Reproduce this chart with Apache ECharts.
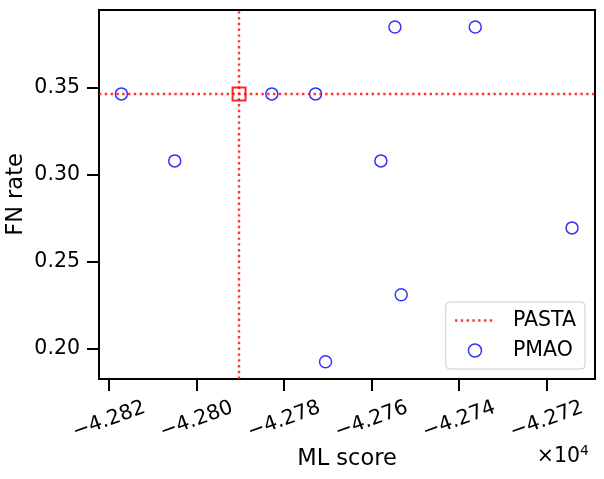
<!DOCTYPE html>
<html>
<head>
<meta charset="utf-8">
<script src="https://cdn.jsdelivr.net/npm/echarts@6/dist/echarts.min.js"></script>
<style>
  html, body { margin: 0; padding: 0; background: #fff; }
  #chart { width: 604px; height: 479px; }
</style>
</head>
<body>
<div id="chart"></div>
<script>
// ML score in units of 1e4 (axis shows x10^4 offset)
const pmaoScore = [-4.281717, -4.280498, -4.278280, -4.277281, -4.275468, -4.273632, -4.275788, -4.271421, -4.275324, -4.277053];
const pmaoFnRate = [0.3462, 0.3077, 0.3462, 0.3462, 0.3846, 0.3846, 0.3077, 0.2692, 0.2308, 0.1923];

const pastaScore = -4.279028;
const pastaFnRate = 0.3462;

const xTicks = [-4.282, -4.280, -4.278, -4.276, -4.274, -4.272];
const xTickLabels = ['\u22124.282', '\u22124.280', '\u22124.278', '\u22124.276', '\u22124.274', '\u22124.272'];
const yTicks = [0.20, 0.25, 0.30, 0.35];
const yTickLabels = ['0.20', '0.25', '0.30', '0.35'];

const FONT = 'DejaVu Sans';
const RED = 'rgba(255,0,0,0.8)';
const BLUE = 'rgba(0,0,255,0.8)';
const DOTS = [2.4, 3.4];

const chart = echarts.init(document.getElementById('chart'), null, { renderer: 'canvas' });

const option = {
  animation: false,
  backgroundColor: '#fff',
  textStyle: { fontFamily: FONT, color: '#000' },
  title: {
    text: '×10{sup|4}',
    right: 10,
    top: 439,
    textStyle: {
      fontFamily: FONT,
      fontSize: 20.5,
      fontWeight: 'normal',
      color: '#000',
      rich: {
        sup: { fontFamily: FONT, fontSize: 14, color: '#000', padding: [0, 0, 12, 0] }
      }
    }
  },
  grid: {
    left: 99,
    right: 9,
    top: 10,
    bottom: 100,
    outerBoundsMode: 'none',
    containLabel: false,
    show: true,
    borderColor: '#000',
    borderWidth: 2,
    backgroundColor: 'transparent'
  },
  legend: {
    orient: 'vertical',
    right: 19,
    top: 302,
    align: 'left',
    backgroundColor: 'rgba(255,255,255,0.8)',
    borderColor: '#cccccc',
    borderWidth: 1,
    borderRadius: 4,
    padding: [7, 9, 7, 8],
    itemWidth: 40,
    itemHeight: 13,
    itemGap: 7,
    textStyle: { fontFamily: FONT, fontSize: 20.5, color: '#000', lineHeight: 23, padding: [0, 0, 0, 13] },
    data: [
      {
        name: 'PASTA',
        itemStyle: { opacity: 0 },
        lineStyle: { color: RED, width: 2.4, type: DOTS }
      },
      {
        name: 'PMAO',
        icon: 'circle',
        itemStyle: { color: 'transparent', borderColor: BLUE, borderWidth: 1.5 }
      }
    ]
  },
  xAxis: {
    type: 'value',
    min: -4.2822286,
    max: -4.270896,
    name: 'ML score',
    nameLocation: 'middle',
    nameGap: 69,
    nameMoveOverlap: false,
    nameTextStyle: { fontFamily: FONT, fontSize: 22.5, color: '#000' },
    axisLine: { show: true, onZero: false, lineStyle: { color: '#000', width: 2 } },
    axisTick: { show: true, length: 12, lineStyle: { color: '#000', width: 2 }, customValues: xTicks },
    axisLabel: {
      customValues: xTicks,
      rotate: 20,
      align: 'center',
      verticalAlign: 'middle',
      margin: 41,
      fontFamily: FONT,
      fontSize: 20.5,
      color: '#000',
      formatter: function (v) {
        const i = xTicks.findIndex(t => Math.abs(t - v) < 1e-7);
        return i >= 0 ? xTickLabels[i] : '';
      }
    },
    splitLine: { show: false }
  },
  yAxis: {
    type: 'value',
    min: 0.18236,
    max: 0.3944,
    name: 'FN rate',
    nameLocation: 'middle',
    nameGap: 71,
    nameMoveOverlap: false,
    nameTextStyle: { fontFamily: FONT, fontSize: 22.5, color: '#000' },
    axisLine: { show: true, onZero: false, lineStyle: { color: '#000', width: 2 } },
    axisTick: { show: true, length: 12, lineStyle: { color: '#000', width: 2 }, customValues: yTicks },
    axisLabel: {
      customValues: yTicks,
      margin: 19,
      fontFamily: FONT,
      fontSize: 20.5,
      color: '#000',
      formatter: function (v) {
        const i = yTicks.findIndex(t => Math.abs(t - v) < 1e-7);
        return i >= 0 ? yTickLabels[i] : '';
      }
    },
    splitLine: { show: false }
  },
  series: [
    {
      name: 'PASTA',
      type: 'line',
      data: [[pastaScore, pastaFnRate]],
      symbol: 'rect',
      symbolSize: 13,
      showSymbol: true,
      itemStyle: { color: 'transparent', borderColor: 'rgba(255,0,0,0.85)', borderWidth: 2 },
      lineStyle: { color: RED, width: 2.4, type: DOTS },
      z: 3,
      markLine: {
        silent: true,
        precision: 8,
        symbol: ['none', 'none'],
        label: { show: false },
        lineStyle: { color: RED, width: 2.4, type: DOTS },
        data: [{ yAxis: pastaFnRate }, { xAxis: pastaScore }]
      }
    },
    {
      name: 'PMAO',
      type: 'scatter',
      data: pmaoScore.map((x, i) => [x, pmaoFnRate[i]]),
      symbol: 'circle',
      symbolSize: 12,
      itemStyle: { color: 'transparent', borderColor: BLUE, borderWidth: 1.5, opacity: 1 },
      z: 4
    }
  ]
};

chart.setOption(option);
</script>
</body>
</html>
